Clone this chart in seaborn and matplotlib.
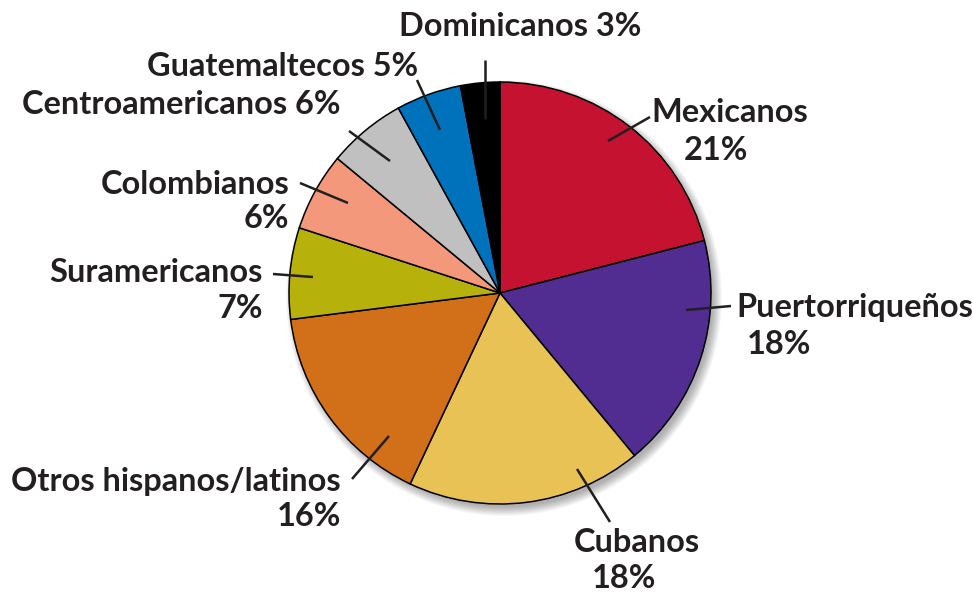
import matplotlib
matplotlib.use("Agg")
import matplotlib.pyplot as plt
from matplotlib.patches import Circle
import seaborn as sns

categories = ["Mexicanos", "Puertorriqueños", "Cubanos", "Otros hispanos/latinos",
              "Suramericanos", "Colombianos", "Centroamericanos", "Guatemaltecos", "Dominicanos"]
values = [21, 18, 18, 16, 7, 6, 6, 5, 3]
colors = ["#C41230", "#522D91", "#E8C255", "#D26F19", "#B7B20B",
          "#F4987B", "#C0C0C0", "#0071BB", "#000000"]

sns.set_style("white")
plt.rcParams['font.family'] = ['Lato', 'DejaVu Sans']

W, H = 972, 595
fig = plt.figure(figsize=(W / 100, H / 100), dpi=100)
ax = fig.add_axes([0, 0, 1, 1])

def P(x, y):
    return (x, H - y)

cx, cy = P(500, 293)
R = 211

# soft shadow
for i in range(14):
    ax.add_patch(Circle((cx + 4, cy - 5), R + 7 - i * 0.7, color="black",
                        alpha=0.025, lw=0, zorder=0))

pal = sns.color_palette(colors)
ax.pie(values, colors=pal, startangle=90, counterclock=False, center=(cx, cy),
       radius=R, wedgeprops=dict(edgecolor="black", linewidth=1.1), frame=True)

ax.set_xlim(0, W)
ax.set_ylim(0, H)
ax.set_aspect("equal")
ax.axis("off")

tc = "#231F20"
fs = 23.4
lines = [
    ((485, 60), (485, 119)),
    ((417, 80), (440, 130)),
    ((349, 131), (390, 161)),
    ((300, 183), (348, 203)),
    ((273, 274), (313, 277)),
    ((352, 479), (389, 436)),
    ((577, 469), (610, 522)),
    ((686, 310), (731, 306)),
    ((608, 141), (650, 117)),
]
for a, b in lines:
    pa, pb = P(*a), P(*b)
    ax.plot([pa[0], pb[0]], [pa[1], pb[1]], color=tc, lw=1.8, solid_capstyle="butt", zorder=5)

def txt(x, y, s, ha):
    ax.text(*P(x, y), s, ha=ha, va="center", fontsize=fs, fontweight="bold", color=tc)

pct = {c: f"{v}%" for c, v in zip(categories, values)}
txt(520, 26, f"Dominicanos {pct['Dominicanos']}", "center")
txt(418, 67, f"Guatemaltecos {pct['Guatemaltecos']}", "right")
txt(340, 105, f"Centroamericanos {pct['Centroamericanos']}", "right")
txt(289, 185, "Colombianos", "right")
txt(289, 218, pct["Colombianos"], "right")
txt(263, 273, "Suramericanos", "right")
txt(263, 309, pct["Suramericanos"], "right")
txt(341, 482, "Otros hispanos/latinos", "right")
txt(341, 517, pct["Otros hispanos/latinos"], "right")
txt(637, 543, "Cubanos", "center")
txt(624, 579, pct["Cubanos"], "center")
txt(736, 308, "Puertorriqueños", "left")
txt(747, 344, pct["Puertorriqueños"], "left")
txt(730, 113, "Mexicanos", "center")
txt(716, 150, pct["Mexicanos"], "center")

fig.savefig("out.png", dpi=100)
